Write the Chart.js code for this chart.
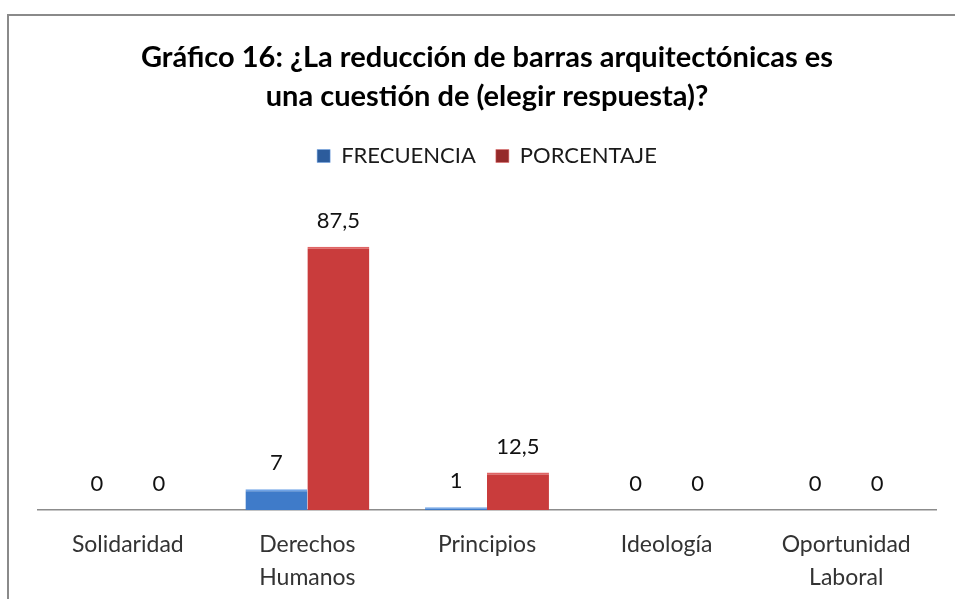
<!DOCTYPE html>
<html>
<head>
<meta charset="utf-8">
<script src="https://cdn.jsdelivr.net/npm/chart.js@4/dist/chart.umd.min.js"></script>
<style>
    html, body { margin: 0; padding: 0; background: #fff; overflow: hidden; }
    .frame {
        position: absolute; left: 7px; top: 14px; width: 960px; height: 600px;
        border-left: 2px solid #8a8a8a; border-top: 2px solid #8a8a8a;
    }
    .wrap { position: absolute; left: 0; top: 0; width: 955px; height: 599px; overflow: hidden; }
</style>
</head>
<body>
<div class="frame"></div>
<div class="wrap"><canvas id="barGraph" width="955" height="617"></canvas></div>
<script>
const categories = ['Solidaridad', ['Derechos', 'Humanos'], 'Principios', 'Ideología', ['Oportunidad', 'Laboral']];
const frecuencia = [0, 7, 1, 0, 0];
const porcentaje = [0, 87.5, 12.5, 0, 0];
const seriesNames = ['FRECUENCIA', 'PORCENTAJE'];
const titleLines = ['Gráfico 16: ¿La reducción de barras arquitectónicas es', 'una cuestión de (elegir respuesta)?'];

const fontName = 'Lato, "Open Sans", sans-serif';

// value labels above each bar, decimal comma like the original
const valueLabels = {
    id: 'valueLabels',
    afterDatasetsDraw(chart) {
        const ctx = chart.ctx;
        ctx.save();
        ctx.font = '22px ' + fontName;
        ctx.fillStyle = '#111';
        ctx.textAlign = 'center';
        ctx.textBaseline = 'middle';
        chart.data.datasets.forEach((ds, i) => {
            chart.getDatasetMeta(i).data.forEach((bar, j) => {
                const txt = String(ds.data[j]).replace('.', ',');
                ctx.fillText(txt, bar.x, bar.y - 26);
            });
        });
        ctx.restore();
    }
};

// extra gap under the legend so the plot starts where the original does
const legendGap = {
    id: 'legendGap',
    beforeInit(chart) {
        const fit = chart.legend.fit;
        chart.legend.fit = function () {
            fit.bind(chart.legend)();
            this.height += 32;
        };
    }
};

function barGradient(context, light, mid, dark) {
    const el = context.element;
    if (!el || el.width === undefined) return mid;
    const x0 = el.x - el.width / 2;
    const g = context.chart.ctx.createLinearGradient(x0, 0, x0 + el.width, 0);
    g.addColorStop(0, light);
    g.addColorStop(0.12, mid);
    g.addColorStop(0.85, mid);
    g.addColorStop(1, dark);
    return g;
}

var ctx = document.getElementById('barGraph').getContext('2d');
var barGraph = new Chart(ctx, {
    type: 'bar',
    data: {
        labels: categories,
        datasets: [{
            label: seriesNames[0],
            data: frecuencia,
            backgroundColor: c => barGradient(c, '#5a93dc', '#3f7bc9', '#2c5c9c'),
            borderColor: '#6fa3e6',
            borderWidth: { top: 2, left: 0, right: 0, bottom: 0 },
            borderSkipped: false
        }, {
            label: seriesNames[1],
            data: porcentaje,
            backgroundColor: c => barGradient(c, '#d85555', '#c93c3c', '#952a2a'),
            borderColor: '#e06464',
            borderWidth: { top: 2, left: 0, right: 0, bottom: 0 },
            borderSkipped: false
        }]
    },
    options: {
        responsive: false,
        animation: false,
        categoryPercentage: 0.69,
        barPercentage: 1,
        layout: { padding: { left: 38, right: 19, top: 0, bottom: 5 } },
        scales: {
            y: { display: false, min: 0, max: 100 },
            x: {
                grid: { display: false, drawTicks: false },
                border: { display: true, color: '#8c8c8c', width: 1.5 },
                ticks: {
                    color: '#333',
                    padding: 18,
                    maxRotation: 0,
                    font: { family: fontName, size: 23, lineHeight: 1.43 }
                }
            }
        },
        plugins: {
            title: {
                display: true,
                text: titleLines,
                color: '#000',
                font: { family: fontName, size: 29, weight: 'bold', lineHeight: 1.345 },
                padding: { top: 38, bottom: 9 }
            },
            legend: {
                labels: {
                    color: '#1a1a1a',
                    boxWidth: 13,
                    boxHeight: 13,
                    padding: 20,
                    font: { family: fontName, size: 22 }
                }
            },
            tooltip: { enabled: false }
        }
    },
    plugins: [valueLabels, legendGap]
});
</script>
</body>
</html>
